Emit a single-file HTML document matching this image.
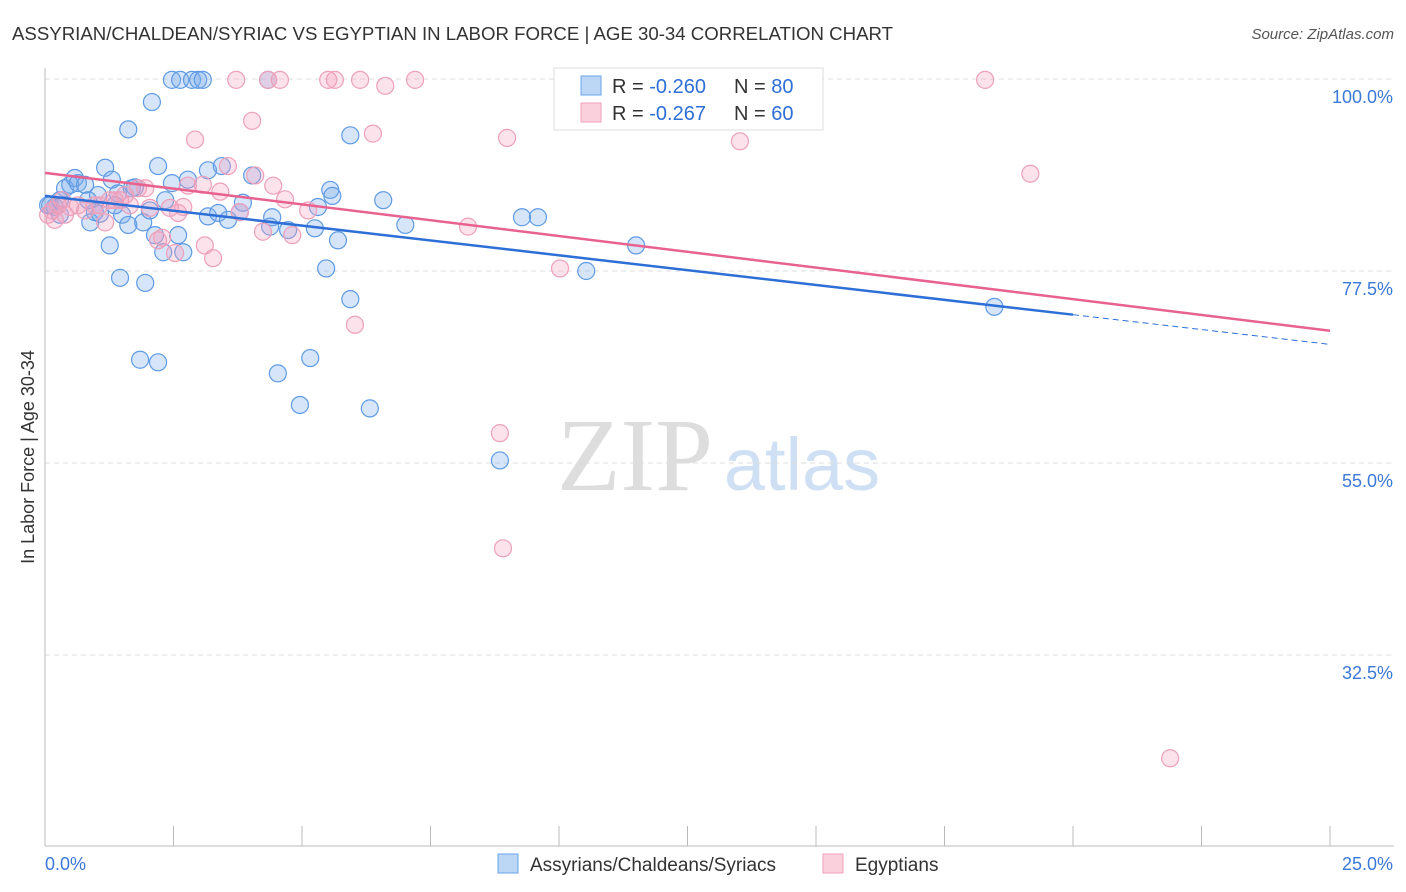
<!DOCTYPE html>
<html><head><meta charset="utf-8"><style>
body{margin:0;background:#fff;font-family:"Liberation Sans",sans-serif}
svg{display:block}
</style></head><body>
<svg id="chart" width="1406" height="892">
<text x="12" y="40" font-size="18" fill="#333" textLength="881" lengthAdjust="spacingAndGlyphs">ASSYRIAN/CHALDEAN/SYRIAC VS EGYPTIAN IN LABOR FORCE | AGE 30-34 CORRELATION CHART</text>
<text x="1394" y="39" font-size="15" fill="#555" font-style="italic" text-anchor="end">Source: ZipAtlas.com</text>
<text x="34" y="457" font-size="18" fill="#333" transform="rotate(-90 34 457)" text-anchor="middle">In Labor Force | Age 30-34</text>
<g><text x="635" y="490" font-size="104" fill="#ddd" font-family="Liberation Serif,serif" text-anchor="middle">ZIP</text><text x="802" y="490" font-size="74" fill="#cfe0f4" text-anchor="middle">atlas</text></g>
<g id="grid"></g><g id="axes"></g><g id="pts"></g><g id="trend"></g>
<g>
<rect x="554" y="68" width="269" height="62" fill="#fff" stroke="#ddd"/>
<rect x="581" y="76" width="20" height="19" fill="#bcd6f6" stroke="#6aa4ea"/>
<rect x="581" y="103" width="20" height="19" fill="#fbd0dd" stroke="#f1a2bb"/>
<text x="612" y="93" font-size="20" fill="#333">R = <tspan fill="#2d6fd6">-0.260</tspan><tspan x="734">N = </tspan><tspan fill="#2d6fd6">80</tspan></text>
<text x="612" y="120" font-size="20" fill="#333">R = <tspan fill="#2d6fd6"> -0.267</tspan><tspan x="734">N = </tspan><tspan fill="#2d6fd6">60</tspan></text>
</g>
<g>
<rect x="498" y="854" width="20" height="19" fill="#bcd6f6" stroke="#6aa4ea"/>
<text x="530" y="871" font-size="19" fill="#333">Assyrians/Chaldeans/Syriacs</text>
<rect x="823" y="854" width="20" height="19" fill="#fbd0dd" stroke="#f1a2bb"/>
<text x="855" y="871" font-size="19" fill="#333">Egyptians</text>
</g>
</svg>
<script>
const blueX=[0.10,0.19,0.29,0.39,0.49,0.58,0.64,0.78,0.88,0.97,1.03,1.17,1.26,1.30,1.42,1.46,1.50,1.62,1.62,1.69,1.75,1.85,1.91,1.95,2.08,2.14,2.20,2.20,2.30,2.47,2.47,2.59,2.63,2.69,2.78,2.86,2.98,3.07,3.17,3.17,3.37,3.44,3.56,3.79,3.85,4.03,4.34,4.38,4.42,4.53,4.73,4.96,5.16,5.25,5.31,5.47,5.55,5.59,5.70,5.94,5.94,6.32,6.58,7.01,8.85,9.28,9.59,10.53,11.50,18.47,0.29,0.06,1.07,0.84,1.36,2.04,2.34];
const blueY=[85.2,85.0,84.1,87.2,87.6,88.4,87.8,87.6,83.2,84.4,86.4,89.6,80.5,88.2,86.6,76.7,84.1,82.9,94.1,87.2,87.3,67.1,83.2,76.1,97.3,81.7,66.8,89.8,79.7,99.9,87.8,81.7,99.9,79.7,88.2,99.9,99.9,99.9,89.3,83.9,84.3,89.8,83.5,84.4,85.5,88.7,99.9,82.7,83.8,65.5,82.3,61.8,67.3,82.5,85.0,77.8,87.0,86.3,81.1,74.2,93.4,61.4,85.8,82.9,55.3,83.8,83.8,77.5,80.5,73.3,85.8,85.2,84.2,85.8,85.2,84.6,85.8];
const pinkX=[0.06,0.14,0.25,0.33,0.49,0.64,0.78,0.97,1.17,1.36,1.46,1.56,1.81,1.95,2.04,2.20,2.28,2.43,2.53,2.59,2.69,2.78,2.92,3.07,3.11,3.27,3.41,3.56,3.72,3.79,4.03,4.09,4.24,4.34,4.44,4.57,4.67,4.81,5.12,5.51,5.64,6.03,6.13,6.38,6.62,7.20,8.23,8.85,8.91,8.99,10.02,13.52,18.29,19.17,21.89,1.26,1.65,0.39,1.07,0.19];
const pinkY=[84.1,84.6,85.2,85.8,85.0,85.2,84.6,85.2,83.2,85.8,85.8,86.4,87.2,87.2,84.9,81.1,81.4,84.9,79.6,84.3,85.0,87.5,92.9,87.6,80.5,79.0,86.8,89.8,99.9,84.4,95.1,88.7,82.1,99.9,87.5,99.9,85.9,81.7,84.6,99.9,99.9,71.2,99.9,93.6,99.2,99.9,82.7,58.5,45.0,93.1,77.8,92.7,99.9,88.9,20.4,85.8,85.2,84.1,85.2,83.5];
const blueTrend=[86.3,68.9]; const pinkTrend=[89.0,70.5];
const yTicks=[100,77.5,55,32.5]; const yTickLabels=["100.0%","77.5%","55.0%","32.5%"];
const xTickLabels=["0.0%","25.0%"];
const NS="http://www.w3.org/2000/svg";
const sx=v=>45+v/25*1285, sy=v=>79+(100-v)/22.5*192;
function mk(t,a,p){const e=document.createElementNS(NS,t);for(const k in a)e.setAttribute(k,a[k]);p.appendChild(e);return e;}
const grid=document.getElementById('grid'),axes=document.getElementById('axes');
yTicks.forEach((t,i)=>{
 const l=mk('line',{x1:45,x2:1394,y1:sy(t),y2:sy(t),stroke:'#ddd','stroke-dasharray':'5,4'},grid);
 
 
 const tx=mk('text',{x:1393,y:sy(t)+24,'font-size':18,fill:'#3b78d8','text-anchor':'end'},axes);tx.textContent=yTickLabels[i];
 
 
});
mk('line',{x1:45,x2:45,y1:68,y2:846,stroke:'#bbb'},axes);
mk('line',{x1:45,x2:1394,y1:846,y2:846,stroke:'#bbb'},axes);
for(let i=0;i<=10;i++){mk('line',{x1:sx(i*2.5),x2:sx(i*2.5),y1:826,y2:846,stroke:'#bbb'},axes);}
let t0=mk('text',{x:45,y:870,'font-size':18,fill:'#3b78d8'},axes);t0.textContent=xTickLabels[0];


let t1=mk('text',{x:1393,y:870,'font-size':18,fill:'#3b78d8','text-anchor':'end'},axes);t1.textContent=xTickLabels[1];


const pts=document.getElementById('pts');
blueX.forEach((x,i)=>{const c=mk('circle',{cx:sx(x),cy:sy(blueY[i]),r:8.5,fill:'rgba(120,170,235,0.3)',stroke:'#5e9be4','stroke-width':1.2},pts);
 
 });
pinkX.forEach((x,i)=>{const c=mk('circle',{cx:sx(x),cy:sy(pinkY[i]),r:8.5,fill:'rgba(245,160,190,0.3)',stroke:'#eea0b9','stroke-width':1.2},pts);
 
 });
const tr=document.getElementById('trend');
const by=x=>blueTrend[0]+(blueTrend[1]-blueTrend[0])*x/25;
let bl=mk('line',{x1:sx(0),y1:sy(by(0)),x2:sx(20),y2:sy(by(20)),stroke:'#2d6fd6','stroke-width':2.5},tr);


let bd=mk('line',{x1:sx(20),y1:sy(by(20)),x2:sx(25),y2:sy(by(25)),stroke:'#2d6fd6','stroke-width':1,'stroke-dasharray':'6,4'},tr);


let pl=mk('line',{x1:sx(0),y1:sy(pinkTrend[0]),x2:sx(25),y2:sy(pinkTrend[1]),stroke:'#e8628f','stroke-width':2.5},tr);


</script>
</body></html>
